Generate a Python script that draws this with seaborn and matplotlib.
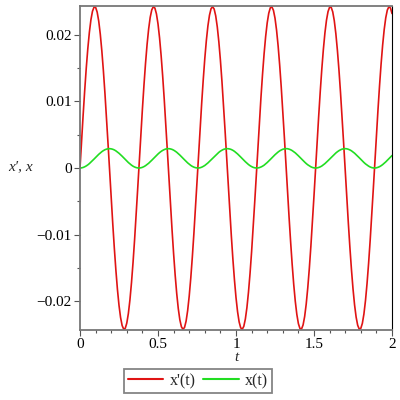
import matplotlib
matplotlib.use("Agg")
import matplotlib.pyplot as plt
import seaborn as sns
import pandas as pd
from matplotlib.ticker import MultipleLocator
from matplotlib.lines import Line2D

t = [0.00, 0.01, 0.02, 0.03, 0.04, 0.05, 0.06, 0.07, 0.08, 0.09,
     0.10, 0.11, 0.12, 0.13, 0.14, 0.15, 0.16, 0.17, 0.18, 0.19,
     0.20, 0.21, 0.22, 0.23, 0.24, 0.25, 0.26, 0.27, 0.28, 0.29,
     0.30, 0.31, 0.32, 0.33, 0.34, 0.35, 0.36, 0.37, 0.38, 0.39,
     0.40, 0.41, 0.42, 0.43, 0.44, 0.45, 0.46, 0.47, 0.48, 0.49,
     0.50, 0.51, 0.52, 0.53, 0.54, 0.55, 0.56, 0.57, 0.58, 0.59,
     0.60, 0.61, 0.62, 0.63, 0.64, 0.65, 0.66, 0.67, 0.68, 0.69,
     0.70, 0.71, 0.72, 0.73, 0.74, 0.75, 0.76, 0.77, 0.78, 0.79,
     0.80, 0.81, 0.82, 0.83, 0.84, 0.85, 0.86, 0.87, 0.88, 0.89,
     0.90, 0.91, 0.92, 0.93, 0.94, 0.95, 0.96, 0.97, 0.98, 0.99,
     1.00, 1.01, 1.02, 1.03, 1.04, 1.05, 1.06, 1.07, 1.08, 1.09,
     1.10, 1.11, 1.12, 1.13, 1.14, 1.15, 1.16, 1.17, 1.18, 1.19,
     1.20, 1.21, 1.22, 1.23, 1.24, 1.25, 1.26, 1.27, 1.28, 1.29,
     1.30, 1.31, 1.32, 1.33, 1.34, 1.35, 1.36, 1.37, 1.38, 1.39,
     1.40, 1.41, 1.42, 1.43, 1.44, 1.45, 1.46, 1.47, 1.48, 1.49,
     1.50, 1.51, 1.52, 1.53, 1.54, 1.55, 1.56, 1.57, 1.58, 1.59,
     1.60, 1.61, 1.62, 1.63, 1.64, 1.65, 1.66, 1.67, 1.68, 1.69,
     1.70, 1.71, 1.72, 1.73, 1.74, 1.75, 1.76, 1.77, 1.78, 1.79,
     1.80, 1.81, 1.82, 1.83, 1.84, 1.85, 1.86, 1.87, 1.88, 1.89,
     1.90, 1.91, 1.92, 1.93, 1.94, 1.95, 1.96, 1.97, 1.98, 1.99,
     2.00]

xdot = [0.0, 0.00401, 0.00791, 0.01158, 0.01495, 0.01789, 0.02034, 0.02223, 0.02351, 0.02413,
        0.02410, 0.02339, 0.02204, 0.02008, 0.01756, 0.01456, 0.01116, 0.00745, 0.00353, -0.00048,
        -0.00448, -0.00836, -0.01201, -0.01532, -0.01822, -0.02060, -0.02242, -0.02362, -0.02417, -0.02405,
        -0.02326, -0.02183, -0.01980, -0.01722, -0.01417, -0.01073, -0.00699, -0.00305, 0.00097, 0.00496,
        0.00881, 0.01242, 0.01569, 0.01853, 0.02085, 0.02260, 0.02372, 0.02419, 0.02399, 0.02312,
        0.02162, 0.01952, 0.01688, 0.01378, 0.01029, 0.00652, 0.00257, -0.00145, -0.00543, -0.00926,
        -0.01284, -0.01606, -0.01883, -0.02109, -0.02277, -0.02381, -0.02420, -0.02392, -0.02298, -0.02140,
        -0.01923, -0.01654, -0.01337, -0.00985, -0.00605, -0.00209, 0.00193, 0.00590, 0.00971, 0.01324,
        0.01642, 0.01914, 0.02133, 0.02292, 0.02389, 0.02420, 0.02384, 0.02282, 0.02117, 0.01893,
        0.01618, 0.01297, 0.00940, 0.00558, 0.00160, -0.00242, -0.00637, -0.01015, -0.01365, -0.01676,
        -0.01943, -0.02155, -0.02308, -0.02397, -0.02419, -0.02375, -0.02265, -0.02093, -0.01862, -0.01581,
        -0.01256, -0.00896, -0.00511, -0.00112, 0.00290, 0.00684, 0.01059, 0.01404, 0.01711, 0.01971,
        0.02177, 0.02322, 0.02403, 0.02417, 0.02365, 0.02248, 0.02068, 0.01832, 0.01544, 0.01214,
        0.00851, 0.00464, 0.00064, -0.00338, -0.00730, -0.01102, -0.01444, -0.01746, -0.01999, -0.02197,
        -0.02335, -0.02408, -0.02415, -0.02354, -0.02229, -0.02042, -0.01799, -0.01507, -0.01172, -0.00805,
        -0.00416, -0.00016, 0.00386, 0.00776, 0.01145, 0.01482, 0.01778, 0.02026, 0.02217, 0.02347,
        0.02412, 0.02411, 0.02343, 0.02210, 0.02016, 0.01766, 0.01469, 0.01130, 0.00759, 0.00369,
        -0.00033, -0.00433, -0.00822, -0.01187, -0.01520, -0.01811, -0.02052, -0.02236, -0.02359, -0.02416,
        -0.02406, -0.02330, -0.02190, -0.01989, -0.01733, -0.01430, -0.01087, -0.00714, -0.00320, 0.00081,
        0.00481, 0.00867, 0.01229, 0.01558, 0.01843, 0.02077, 0.02254, 0.02369, 0.02418, 0.02401,
        0.02317]

x = [0.0, 0.00002, 0.00008, 0.00018, 0.00031, 0.00047, 0.00066, 0.00088, 0.00111, 0.00134,
     0.00158, 0.00182, 0.00205, 0.00226, 0.00245, 0.00261, 0.00274, 0.00283, 0.00288, 0.00290,
     0.00287, 0.00281, 0.00271, 0.00257, 0.00240, 0.00221, 0.00200, 0.00177, 0.00153, 0.00129,
     0.00105, 0.00082, 0.00062, 0.00043, 0.00027, 0.00015, 0.00006, 0.00001, 0.00000, 0.00003,
     0.00010, 0.00021, 0.00035, 0.00052, 0.00071, 0.00093, 0.00116, 0.00140, 0.00164, 0.00188,
     0.00210, 0.00231, 0.00249, 0.00264, 0.00276, 0.00285, 0.00289, 0.00290, 0.00286, 0.00279,
     0.00268, 0.00253, 0.00236, 0.00216, 0.00194, 0.00171, 0.00147, 0.00123, 0.00099, 0.00077,
     0.00057, 0.00039, 0.00024, 0.00013, 0.00005, 0.00001, 0.00000, 0.00004, 0.00012, 0.00024,
     0.00038, 0.00056, 0.00076, 0.00099, 0.00122, 0.00146, 0.00170, 0.00193, 0.00215, 0.00235,
     0.00253, 0.00267, 0.00279, 0.00286, 0.00290, 0.00289, 0.00285, 0.00277, 0.00265, 0.00250,
     0.00231, 0.00211, 0.00189, 0.00165, 0.00141, 0.00117, 0.00094, 0.00072, 0.00052, 0.00035,
     0.00021, 0.00010, 0.00003, 0.00000, 0.00001, 0.00006, 0.00015, 0.00027, 0.00042, 0.00061,
     0.00082, 0.00104, 0.00128, 0.00152, 0.00176, 0.00199, 0.00220, 0.00240, 0.00257, 0.00270,
     0.00281, 0.00287, 0.00290, 0.00289, 0.00283, 0.00274, 0.00261, 0.00245, 0.00227, 0.00206,
     0.00183, 0.00159, 0.00135, 0.00111, 0.00089, 0.00067, 0.00048, 0.00032, 0.00018, 0.00008,
     0.00002, 0.00000, 0.00002, 0.00008, 0.00017, 0.00030, 0.00047, 0.00066, 0.00087, 0.00110,
     0.00133, 0.00158, 0.00181, 0.00204, 0.00225, 0.00244, 0.00260, 0.00273, 0.00283, 0.00288,
     0.00290, 0.00288, 0.00281, 0.00271, 0.00258, 0.00241, 0.00222, 0.00200, 0.00177, 0.00154,
     0.00130, 0.00106, 0.00083, 0.00062, 0.00044, 0.00028, 0.00015, 0.00006, 0.00001, 0.00000,
     0.00003, 0.00010, 0.00020, 0.00034, 0.00051, 0.00071, 0.00092, 0.00115, 0.00139, 0.00163,
     0.00187]

series_names = ["x'(t)", "x(t)"]
yticks = [-0.02, -0.01, 0, 0.01, 0.02]
ytick_labels = ["\u22120.02", "\u22120.01", "0", "0.01", "0.02"]
xticks = [0, 0.5, 1, 1.5, 2]
xtick_labels = ["0", "0.5", "1", "1.5", "2"]

RED = "#e01414"
GREEN = "#22dd22"

df = pd.DataFrame({"t": t * 2, "value": xdot + x,
                   "series": [series_names[0]] * len(t) + [series_names[1]] * len(t)})

sns.set_theme(style="white")
plt.rcParams['font.family'] = ['Liberation Serif', 'DejaVu Serif']

fig = plt.figure(figsize=(4, 4), dpi=100)
ax = fig.add_axes([0.2, 0.175, 0.78, 0.81])

sns.lineplot(data=df, x="t", y="value", hue="series",
             palette={series_names[0]: RED, series_names[1]: GREEN},
             linewidth=1.2, ax=ax, legend=False)

ax.set_xlim(0, 2)
ax.set_ylim(-0.0243, 0.0243)
ax.set_xticks(xticks)
ax.set_xticklabels(xtick_labels)
ax.set_yticks(yticks)
ax.set_yticklabels(ytick_labels)
ax.xaxis.set_minor_locator(MultipleLocator(0.1))
ax.yaxis.set_minor_locator(MultipleLocator(0.005))
ax.tick_params(axis='both', which='major', direction='out', length=4, width=0.8,
               color='#555555', labelsize=11, pad=2, labelcolor='black')
ax.tick_params(axis='both', which='minor', direction='out', length=2.5, width=0.8,
               color='#555555')
ax.tick_params(axis='x', which='both', bottom=True)
ax.tick_params(axis='y', which='both', left=True)

for side in ['left', 'bottom', 'top']:
    ax.spines[side].set_color('#777777')
    ax.spines[side].set_linewidth(1.3)
ax.spines['right'].set_color('black')
ax.spines['right'].set_linewidth(0.8)

ax.set_xlabel("t", fontsize=11, style='italic', labelpad=0)
ax.set_ylabel("x\u2032, x", fontsize=11, style='italic', rotation=0, labelpad=0)
ax.yaxis.set_label_coords(-0.19, 0.485)

handles = [Line2D([0], [0], color=RED, lw=1.5),
           Line2D([0], [0], color=GREEN, lw=1.5)]
leg = fig.legend(handles, series_names, loc='center', bbox_to_anchor=(198 / 400, 1 - 381 / 400),
                 ncol=2, frameon=True, fancybox=False, fontsize=11.5, handlelength=2.2,
                 handletextpad=0.4, columnspacing=0.5, borderpad=0.25, borderaxespad=0)
leg.get_frame().set_edgecolor('#666666')
leg.get_frame().set_linewidth(1.3)

fig.savefig("out.png", dpi=100)
